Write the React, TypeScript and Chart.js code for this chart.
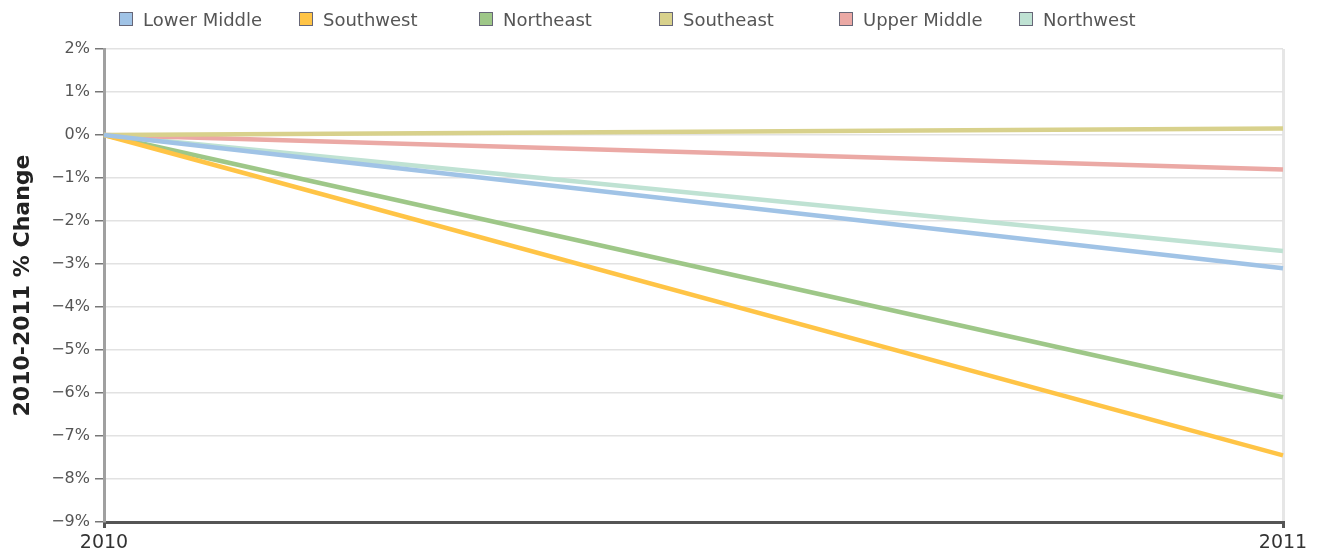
import React, { useEffect, useRef } from "react";
import { Chart, registerables } from "chart.js";

Chart.register(...registerables);

const categories = ["2010", "2011"];
const seriesNames = ["Lower Middle", "Southwest", "Northeast", "Southeast", "Upper Middle", "Northwest"];
const lowerMiddle = [0, -3.1];
const southwest = [0, -7.45];
const northeast = [0, -6.1];
const southeast = [0, 0.15];
const upperMiddle = [0, -0.8];
const northwest = [0, -2.7];
const seriesColors = ["#a0c3e6", "#ffc446", "#9ec788", "#d8d18c", "#eba9a5", "#bfe2d3"];
const yMin = -9;
const yMax = 2;
const yTitle = "2010-2011 % Change";

const seriesValues = [lowerMiddle, southwest, northeast, southeast, upperMiddle, northwest];

export default function App() {
  const ref = useRef<HTMLCanvasElement | null>(null);

  useEffect(() => {
    if (!ref.current) return;
    const chart = new Chart(ref.current, {
      type: "line",
      data: {
        labels: categories,
        datasets: seriesNames.map((name, i) => ({
          label: name,
          data: seriesValues[i],
          borderColor: seriesColors[i],
          backgroundColor: seriesColors[i],
          borderWidth: 4.5,
          pointRadius: 0,
          tension: 0,
          fill: false,
        })),
      },
      options: {
        animation: false,
        responsive: false,
        maintainAspectRatio: false,
        layout: { padding: { left: 0, top: 49, right: 36, bottom: 0 } },
        plugins: { legend: { display: false }, tooltip: { enabled: false } },
        scales: {
          x: {
            type: "category",
            offset: false,
            afterFit: (s: any) => {
              s.height = 36;
            },
            grid: { color: "#e6e6e6", lineWidth: 3, tickColor: "#555", tickLength: 6 },
            border: { color: "#555", width: 3 },
            ticks: {
              font: { family: "DejaVu Sans", size: 19 },
              color: "#333",
              padding: 4,
              maxRotation: 0,
            },
          },
          y: {
            min: yMin,
            max: yMax,
            afterFit: (s: any) => {
              s.width = 104;
            },
            grid: { color: "#e2e2e2", lineWidth: 1.5, tickColor: "#777", tickLength: 9 },
            border: { color: "#a0a0a0", width: 3 },
            ticks: {
              stepSize: 1,
              font: { family: "DejaVu Sans", size: 16 },
              color: "#555",
              padding: 5,
              callback: (v: any) => (v < 0 ? "\u2212" + Math.abs(v) : String(v)) + "%",
            },
            title: {
              display: true,
              text: yTitle,
              font: { family: "DejaVu Sans", size: 22, weight: "bold" },
              color: "#222",
              padding: { top: 10, bottom: 0 },
            },
          },
        },
      },
    });
    return () => chart.destroy();
  }, []);

  return (
    <div style={{ position: "fixed", left: 0, top: 0, width: 1319, height: 558, background: "#fff" }}>
      <canvas ref={ref} width={1319} height={558} style={{ position: "absolute", left: 0, top: 0 }} />
      {seriesNames.map((name, i) => (
        <div
          key={name}
          style={{
            position: "absolute",
            left: 119 + i * 180,
            top: 8,
            height: 22,
            display: "flex",
            alignItems: "center",
            fontFamily: "DejaVu Sans",
            fontSize: 18,
            color: "#555",
            whiteSpace: "nowrap",
          }}
        >
          <span
            style={{
              display: "inline-block",
              width: 12,
              height: 12,
              background: seriesColors[i],
              border: "1px solid #667",
              marginRight: 10,
            }}
          />
          {name}
        </div>
      ))}
    </div>
  );
}
